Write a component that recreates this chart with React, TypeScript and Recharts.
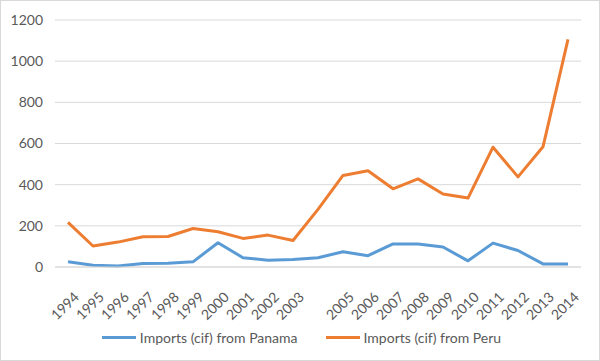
import { LineChart, Line, XAxis, YAxis, CartesianGrid, Legend } from "recharts";

const years = [
  "1994", "1995", "1996", "1997", "1998", "1999", "2000", "2001", "2002", "2003",
  "2004", "2005", "2006", "2007", "2008", "2009", "2010", "2011", "2012", "2013", "2014",
];
const panama = [25, 9, 5, 17, 18, 25, 118, 45, 33, 37, 45, 74, 55, 112, 112, 97, 30, 116, 80, 15, 15];
const peru = [217, 102, 121, 147, 148, 187, 171, 139, 155, 129, 280, 445, 468, 380, 428, 355, 335, 582, 438, 584, 1106];
const yTicks = [0, 200, 400, 600, 800, 1000, 1200];
const hiddenLabels = ["2004"];

const data = years.map((year, i) => ({ year, panama: panama[i], peru: peru[i] }));

const font = "Lato, 'Liberation Sans', sans-serif";
const axisColor = "#595959";

const YearTick = (props: any) => {
  const { x, y, payload } = props;
  const label = hiddenLabels.includes(payload.value) ? "" : payload.value;
  const tx = x + 8;
  const ty = y + 19;
  return (
    <text
      x={tx}
      y={ty}
      transform={`rotate(-45, ${tx}, ${ty})`}
      textAnchor="end"
      dominantBaseline="central"
      fill={axisColor}
      fontSize={14}
      fontFamily={font}
    >
      {label}
    </text>
  );
};

const legendItems = [
  { name: "Imports (cif) from Panama", color: "#5B9BD5" },
  { name: "Imports (cif) from Peru", color: "#ED7D31" },
];

const LegendContent = () => (
  <div
    style={{
      display: "flex",
      justifyContent: "center",
      gap: 28,
      paddingTop: 7,
      paddingLeft: 22,
      fontFamily: font,
      fontSize: 14,
      color: axisColor,
    }}
  >
    {legendItems.map((it) => (
      <div key={it.name} style={{ display: "flex", alignItems: "center", gap: 4 }}>
        <span style={{ display: "inline-block", width: 34, height: 3, background: it.color }} />
        <span>{it.name}</span>
      </div>
    ))}
  </div>
);

export default function App() {
  return (
    <div
      style={{
        position: "absolute",
        left: 0,
        top: 0,
        width: 600,
        height: 361,
        boxSizing: "border-box",
        border: "1px solid #d9d9d9",
        background: "#fff",
      }}
    >
      <LineChart
        width={598}
        height={359}
        data={data}
        margin={{ top: 20, right: 17, left: 0, bottom: 0 }}
        style={{ position: "absolute", left: -1, top: -1 }}
      >
        <CartesianGrid vertical={false} stroke="#d9d9d9" strokeWidth={1} />
        <XAxis
          dataKey="year"
          interval={0}
          tick={<YearTick />}
          tickLine={false}
          axisLine={{ stroke: "#d9d9d9" }}
          padding={{ left: 13, right: 13 }}
          height={55}
        />
        <YAxis
          domain={[0, 1200]}
          ticks={yTicks}
          width={55}
          tickLine={false}
          axisLine={false}
          tickMargin={6}
          tick={{ fill: axisColor, fontSize: 14, fontFamily: font }}
        />
        <Legend verticalAlign="bottom" height={37} content={<LegendContent />} />
        <Line
          type="linear"
          dataKey="panama"
          name="Imports (cif) from Panama"
          stroke="#5B9BD5"
          strokeWidth={3}
          dot={false}
          strokeLinejoin="round"
          isAnimationActive={false}
        />
        <Line
          type="linear"
          dataKey="peru"
          name="Imports (cif) from Peru"
          stroke="#ED7D31"
          strokeWidth={3}
          dot={false}
          strokeLinejoin="round"
          isAnimationActive={false}
        />
      </LineChart>
    </div>
  );
}
